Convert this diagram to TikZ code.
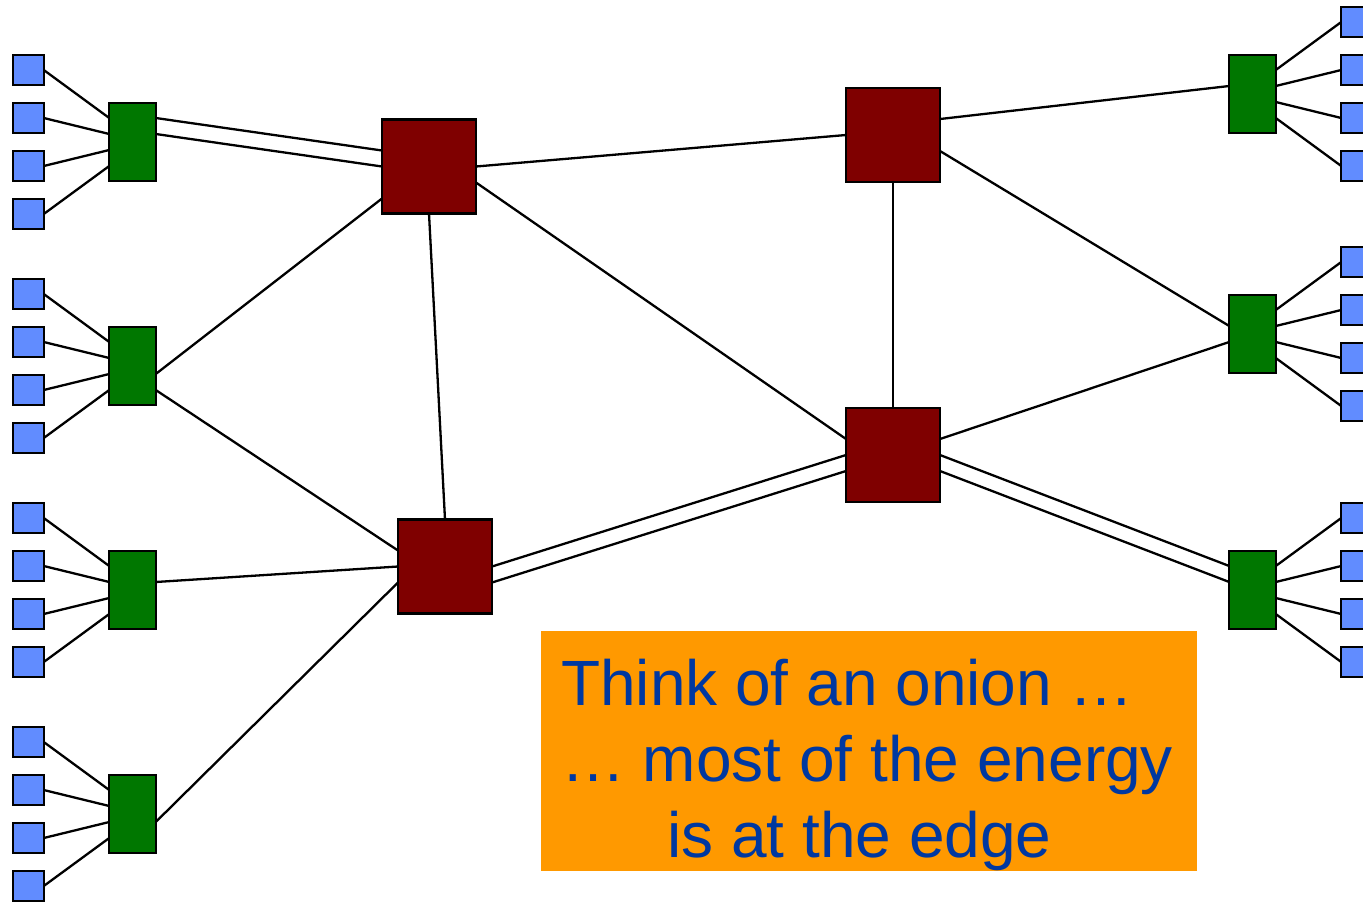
\documentclass[tikz,border=0pt]{standalone}
\usepackage{fontspec}
\setmainfont{Liberation Sans}
\definecolor{leafblue}{RGB}{97,140,255}
\definecolor{agggreen}{RGB}{0,119,0}
\definecolor{coremaroon}{RGB}{127,0,0}
\definecolor{noteorange}{RGB}{255,153,0}
\definecolor{notetext}{RGB}{0,56,160}
\begin{document}
\begin{tikzpicture}[x=1pt,y=-1pt,
  leaf/.style={draw=black,fill=leafblue,line width=2.4pt,minimum width=30.5pt,minimum height=30.5pt,inner sep=0pt,outer sep=0pt},
  agg/.style={draw=black,fill=agggreen,line width=2.4pt,minimum width=46.5pt,minimum height=78pt,inner sep=0pt,outer sep=0pt},
  core/.style={draw=black,fill=coremaroon,line width=2.4pt,minimum width=94pt,minimum height=94pt,inner sep=0pt,outer sep=0pt},
  link/.style={draw=black,line width=2.3pt},
  notebox/.style={fill=noteorange,draw=none,minimum width=656pt,minimum height=240pt,inner sep=0pt},
  notelabel/.style={text=notetext,font=\fontsize{64}{76}\selectfont,align=left,inner sep=0pt,anchor=north west}
]
\useasboundingbox (0,0) rectangle (1363,903);
\clip (0,0) rectangle (1363,903);

% core routers
\node[core] (A) at (429,166.5) {};
\node[core] (B) at (445,566.5) {};
\node[core] (C) at (893,135) {};
\node[core] (D) at (893,455) {};

% left aggregation groups
\foreach \g/\c in {1/142,2/366,3/590,4/814}{
  \node[agg] (L\g) at (132.5,\c) {};
  \foreach \k/\dy/\s in {1/-72/24,2/-24/8,3/24/-8,4/72/-24}{
    \node[leaf] (L\g-\k) at (28.5,\c+\dy) {};
    \draw[link] (L\g-\k.east) -- ([yshift=\s pt]L\g.west);
  }
}

% right aggregation groups
\foreach \g/\c in {1/94,2/334,3/590}{
  \node[agg] (R\g) at (1252.5,\c) {};
  \foreach \k/\dy/\s in {1/-72/24,2/-24/8,3/24/-8,4/72/-24}{
    \node[leaf] (R\g-\k) at (1356.5,\c+\dy) {};
    \draw[link] ([yshift=\s pt]R\g.east) -- (R\g-\k.west);
  }
}

% left aggregation to core
\draw[link] ([yshift=24pt]L1.east) -- ([yshift=16pt]A.west);
\draw[link] ([yshift=8pt]L1.east) -- (A.west);
\draw[link] ([yshift=-8pt]L2.east) -- ([yshift=-32pt]A.west);
\draw[link] ([yshift=-24pt]L2.east) -- ([yshift=16pt]B.west);
\draw[link] ([yshift=8pt]L3.east) -- (B.west);
\draw[link] ([yshift=-8pt]L4.east) -- ([yshift=-16pt]B.west);

% core mesh
\draw[link] (A.south) -- (B.north);
\draw[link] (A.east) -- (C.west);
\draw[link] ([yshift=-16pt]A.east) -- ([yshift=16pt]D.west);
\draw[link] (B.east) -- (D.west);
\draw[link] ([yshift=-16pt]B.east) -- ([yshift=-16pt]D.west);
\draw[link] (C.south) -- (D.north);

% core to right aggregation
\draw[link] ([yshift=16pt]C.east) -- ([yshift=8pt]R1.west);
\draw[link] ([yshift=-16pt]C.east) -- ([yshift=8pt]R2.west);
\draw[link] ([yshift=16pt]D.east) -- ([yshift=-8pt]R2.west);
\draw[link] (D.east) -- ([yshift=24pt]R3.west);
\draw[link] ([yshift=-16pt]D.east) -- ([yshift=8pt]R3.west);

% note
\node[notebox] (note) at (869,751) {};
\node[notelabel] (notetxt) at (561,658.5) {Think of an onion …\\… most of the energy\\\hspace*{106pt}is at the edge};
\end{tikzpicture}
\end{document}
